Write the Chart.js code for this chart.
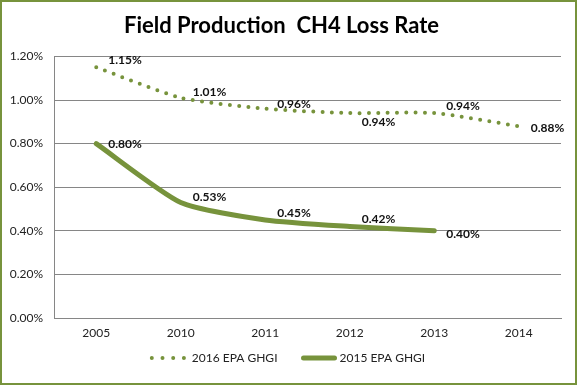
<!DOCTYPE html>
<html>
<head>
<meta charset="utf-8">
<script src="https://cdn.jsdelivr.net/npm/chart.js@4.4.1/dist/chart.umd.min.js"></script>
<style>
  html, body { margin: 0; padding: 0; background: #fff; }
  #frame { width: 577px; height: 385px; box-sizing: border-box; border: 2px solid #77933c; }
  #lossChart { display: block; }
</style>
</head>
<body>
<div id="frame"><canvas id="lossChart" width="573" height="381"></canvas></div>
<script>
const years = ['2005', '2010', '2011', '2012', '2013', '2014'];
const epa2016 = [1.15, 1.01, 0.96, 0.94, 0.94, 0.88];
const epa2015 = [0.80, 0.53, 0.45, 0.42, 0.40, null];
const seriesNames = ['2016 EPA GHGI', '2015 EPA GHGI'];
const yTicks = [0, 0.2, 0.4, 0.6, 0.8, 1.0, 1.2];

// vertical nudge (px) for each value label, the Excel labels were placed by hand
const labelNudge = [
    [-7, -6, -5, 9, -7, 2],
    [1, -5, -7, -7, 3, 0]
];

const green = '#77933c';
const fontFamily = 'Lato, "Open Sans", sans-serif';

const valueLabels = {
    id: 'valueLabels',
    afterDatasetsDraw(chart) {
        const ctx = chart.ctx;
        ctx.save();
        ctx.font = 'bold 12px ' + fontFamily;
        ctx.fillStyle = '#111';
        ctx.textAlign = 'left';
        ctx.textBaseline = 'middle';
        chart.data.datasets.forEach((ds, di) => {
            const meta = chart.getDatasetMeta(di);
            meta.data.forEach((pt, i) => {
                const v = ds.data[i];
                if (v === null || v === undefined) return;
                ctx.fillText(v.toFixed(2) + '%', pt.x + 12, pt.y + labelNudge[di][i]);
            });
        });
        ctx.restore();
    }
};

// Excel style legend at the bottom: dotted / thick line samples
const bottomLegend = {
    id: 'bottomLegend',
    afterDraw(chart) {
        const ctx = chart.ctx;
        const y = 356;
        ctx.save();
        ctx.font = '12px ' + fontFamily;
        ctx.textBaseline = 'middle';
        ctx.fillStyle = '#222';
        const w1 = ctx.measureText(seriesNames[0]).width;
        const w2 = ctx.measureText(seriesNames[1]).width;
        const total = 32 + 8 + w1 + 24 + 35 + 3 + w2;
        let x = (chart.width - total) / 2;

        ctx.strokeStyle = green;
        ctx.lineCap = 'round';
        ctx.lineWidth = 4;
        ctx.setLineDash([0, 10.7]);
        ctx.beginPath();
        ctx.moveTo(x, y);
        ctx.lineTo(x + 33, y);
        ctx.stroke();
        x += 40;
        ctx.fillText(seriesNames[0], x, y);
        x += w1 + 24;

        ctx.setLineDash([]);
        ctx.lineWidth = 5;
        ctx.beginPath();
        ctx.moveTo(x + 2, y);
        ctx.lineTo(x + 33, y);
        ctx.stroke();
        x += 38;
        ctx.fillText(seriesNames[1], x, y);
        ctx.restore();
    }
};

const ctx = document.getElementById('lossChart').getContext('2d');
const lossChart = new Chart(ctx, {
    type: 'line',
    data: {
        labels: years,
        datasets: [{
            label: seriesNames[0],
            data: epa2016,
            borderColor: green,
            borderWidth: 4,
            borderDash: [0, 9.3],
            borderCapStyle: 'round',
            pointRadius: 0,
            tension: 0.2,
            fill: false
        }, {
            label: seriesNames[1],
            data: epa2015,
            borderColor: green,
            borderWidth: 5,
            borderCapStyle: 'round',
            borderJoinStyle: 'round',
            pointRadius: 0,
            tension: 0.2,
            fill: false
        }]
    },
    options: {
        responsive: false,
        animation: false,
        layout: {padding: {left: 0, right: 14, top: 0, bottom: 35}},
        plugins: {
            legend: {display: false},
            tooltip: {enabled: false},
            title: {
                display: true,
                text: 'Field Production  CH4 Loss Rate',
                color: '#000',
                font: {family: fontFamily, size: 22, weight: 'bold', lineHeight: 1.2},
                padding: {top: 11, bottom: 17}
            }
        },
        scales: {
            x: {
                offset: true,
                grid: {display: false, drawTicks: false},
                border: {color: '#868686'},
                ticks: {color: '#222', font: {family: fontFamily, size: 12}, padding: 8, maxRotation: 0},
                afterFit: s => { s.height = 30; }
            },
            y: {
                min: 0,
                max: 1.2,
                afterBuildTicks: s => { s.ticks = yTicks.map(v => ({value: v})); },
                grid: {color: '#868686', drawTicks: false},
                border: {color: '#868686'},
                ticks: {
                    color: '#222',
                    font: {family: fontFamily, size: 12},
                    padding: 11,
                    callback: v => v.toFixed(2) + '%'
                },
                afterFit: s => { s.width = 52; }
            }
        }
    },
    plugins: [valueLabels, bottomLegend]
});
</script>
</body>
</html>
